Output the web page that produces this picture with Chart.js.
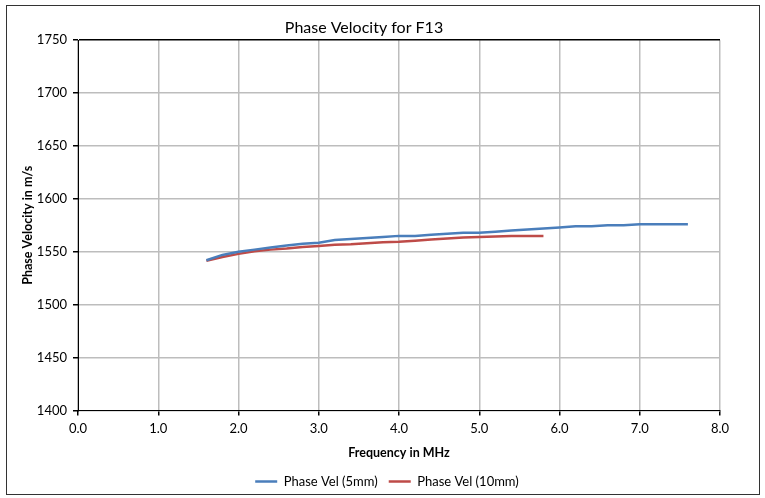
<!DOCTYPE html>
<html>
<head>
<meta charset="utf-8">
<script src="https://cdn.jsdelivr.net/npm/chart.js@4"></script>
<style>
    html, body { margin: 0; padding: 0; background: #fff; }
    #wrap { width: 765px; height: 498px; }
</style>
</head>
<body>
<div id="wrap"><canvas id="grafico" width="765" height="498"></canvas></div>
<script>
"use strict";

// frequencies in MHz
const freq5mm = [1.6, 1.8, 2.0, 2.2, 2.4, 2.6, 2.8, 3.0, 3.2, 3.4, 3.6, 3.8, 4.0, 4.2, 4.4, 4.6,
    4.8, 5.0, 5.2, 5.4, 5.6, 5.8, 6.0, 6.2, 6.4, 6.6, 6.8, 7.0, 7.2, 7.4, 7.6];
const vel5mm = [1542, 1547, 1550, 1552, 1554, 1556, 1557.5, 1558.5, 1561, 1562, 1563, 1564, 1565, 1565, 1566, 1567,
    1568, 1568, 1569, 1570, 1571, 1572, 1573, 1574, 1574, 1575, 1575, 1576, 1576, 1576, 1576];

const freq10mm = [1.6, 1.8, 2.0, 2.2, 2.4, 2.6, 2.8, 3.0, 3.2, 3.4, 3.6, 3.8, 4.0, 4.2, 4.4, 4.6,
    4.8, 5.0, 5.2, 5.4, 5.6, 5.8];
const vel10mm = [1541.5, 1545, 1548, 1550.5, 1552, 1553, 1554.5, 1555.5, 1556.5, 1557, 1558, 1559, 1559.5, 1560.5, 1561.5, 1562.5,
    1563.5, 1564, 1564.5, 1565, 1565, 1565];

const xTicks = [0, 1, 2, 3, 4, 5, 6, 7, 8];
const yTicks = [1400, 1450, 1500, 1550, 1600, 1650, 1700, 1750];

const fuente = "Lato, 'Liberation Sans', sans-serif";

function puntos(xs, ys) {
    return xs.map((x, i) => ({ x: x, y: ys[i] }));
}

// outer chart border + shift legend to be centred under the plot
const marco = {
    id: "marco",
    afterLayout(chart) {
        const lg = chart.legend;
        if (lg) {
            lg.left += 23;
            lg.right += 23;
        }
    },
    afterDraw(chart) {
        const ctx = chart.ctx;
        ctx.save();
        ctx.strokeStyle = "#333";
        ctx.lineWidth = 1;
        ctx.strokeRect(6.5, 5.5, 753, 489);
        ctx.restore();
    }
};

const fondo = {
    id: "fondo",
    beforeDraw(chart) {
        const ctx = chart.ctx;
        ctx.save();
        ctx.fillStyle = "#fff";
        ctx.fillRect(0, 0, chart.width, chart.height);
        ctx.restore();
    }
};

new Chart(document.getElementById("grafico"), {
    type: "scatter",
    data: {
        datasets: [{
            label: "Phase Vel (5mm)",
            data: puntos(freq5mm, vel5mm),
            showLine: true,
            borderColor: "#4A7EBB",
            backgroundColor: "#4A7EBB",
            borderWidth: 2.5,
            pointRadius: 0,
            pointStyle: "line",
            tension: 0
        }, {
            label: "Phase Vel (10mm)",
            data: puntos(freq10mm, vel10mm),
            showLine: true,
            borderColor: "#BE4B48",
            backgroundColor: "#BE4B48",
            borderWidth: 2.5,
            pointRadius: 0,
            pointStyle: "line",
            tension: 0
        }]
    },
    options: {
        responsive: false,
        animation: false,
        layout: { padding: { left: 8, right: 45, top: 10, bottom: 0 } },
        plugins: {
            title: {
                display: true,
                text: "Phase Velocity for F13",
                color: "#000",
                font: { family: fuente, size: 16, weight: "normal" },
                padding: { top: 8, bottom: 3 }
            },
            legend: {
                position: "bottom",
                labels: {
                    usePointStyle: true,
                    pointStyleWidth: 22,
                    color: "#000",
                    font: { family: fuente, size: 13 },
                    padding: 11
                }
            },
            tooltip: { enabled: false }
        },
        scales: {
            x: {
                type: "linear",
                min: 0,
                max: 8,
                afterBuildTicks(axis) {
                    axis.ticks = xTicks.map(v => ({ value: v }));
                },
                ticks: {
                    color: "#000",
                    font: { family: fuente, size: 13 },
                    padding: 6,
                    callback: v => v.toFixed(1)
                },
                grid: {
                    color: "#BDBDBD",
                    lineWidth: 1.5,
                    tickColor: "#000",
                    tickLength: 5
                },
                border: { color: "#000", width: 1 },
                title: {
                    display: true,
                    text: "Frequency in MHz",
                    color: "#000",
                    font: { family: fuente, size: 12.5, weight: "bold" },
                    padding: { top: 2, bottom: 4 }
                }
            },
            y: {
                min: 1400,
                max: 1750,
                afterBuildTicks(axis) {
                    axis.ticks = yTicks.map(v => ({ value: v }));
                },
                afterFit(axis) {
                    axis.width = 70;
                },
                ticks: {
                    color: "#000",
                    font: { family: fuente, size: 13 },
                    padding: 6,
                    callback: v => String(v)
                },
                grid: {
                    color: ctx => (ctx.tick && ctx.tick.value === 1750 ? "#000" : "#BDBDBD"),
                    lineWidth: 1.5,
                    tickColor: "#000",
                    tickLength: 5
                },
                border: { color: "#000", width: 1 },
                title: {
                    display: true,
                    text: "Phase Velocity in m/s",
                    color: "#000",
                    font: { family: fuente, size: 12.5, weight: "bold" },
                    padding: { top: 12, bottom: 2 }
                }
            }
        }
    },
    plugins: [fondo, marco]
});
</script>
</body>
</html>
